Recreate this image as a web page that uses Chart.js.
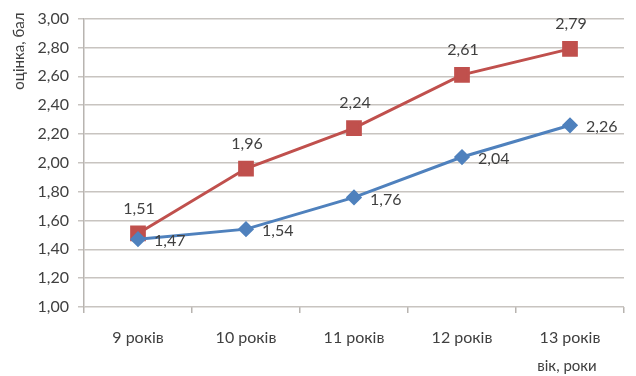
<!DOCTYPE html>
<html>
<head>
<meta charset="utf-8">
<script src="https://cdn.jsdelivr.net/npm/chart.js@4/dist/chart.umd.min.js"></script>
<style>
  html, body { margin: 0; padding: 0; background: #ffffff; }
  #wrap { width: 636px; height: 376px; }
</style>
</head>
<body>
<div id="wrap"><canvas id="chart" width="636" height="376"></canvas></div>
<script>
// Age groups and mean scores for the two series
const categories = ['9 років', '10 років', '11 років', '12 років', '13 років'];
const seriesUpper = [1.51, 1.96, 2.24, 2.61, 2.79];
const seriesLower = [1.47, 1.54, 1.76, 2.04, 2.26];
const yTicks = [1.0, 1.2, 1.4, 1.6, 1.8, 2.0, 2.2, 2.4, 2.6, 2.8, 3.0];
const yTitle = 'оцінка, бал';
const xTitle = 'вік, роки';

const FONT = 'Lato, "Open Sans", sans-serif';
const TEXT = '#404040';
const fmt = v => v.toFixed(2).replace('.', ',');

// Draws the value of every point next to its marker
const valueLabels = {
  id: 'valueLabels',
  afterDatasetsDraw(chart) {
    const ctx = chart.ctx;
    ctx.save();
    ctx.font = '16px ' + FONT;
    ctx.fillStyle = TEXT;
    ctx.textBaseline = 'middle';
    chart.data.datasets.forEach((ds, i) => {
      const meta = chart.getDatasetMeta(i);
      meta.data.forEach((pt, j) => {
        const text = fmt(ds.data[j]);
        if (ds.labelPos === 'above') {
          ctx.textAlign = 'center';
          ctx.fillText(text, pt.x + 1, pt.y - 25);
        } else {
          ctx.textAlign = 'left';
          ctx.fillText(text, pt.x + 16, pt.y + 2);
        }
      });
    });
    ctx.restore();
  }
};

// Axis titles: vertical one at the top of the value axis, horizontal one under the last category
const axisTitles = {
  id: 'axisTitles',
  afterDraw(chart) {
    const ctx = chart.ctx;
    const area = chart.chartArea;
    const xs = chart.scales.x;
    const ys = chart.scales.y;
    ctx.save();
    ctx.font = '15px ' + FONT;
    ctx.fillStyle = TEXT;
    ctx.textBaseline = 'middle';
    // value axis title, reading bottom to top, ending near the top of the plot
    ctx.save();
    ctx.translate(19, ys.getPixelForValue(ys.max) - 6);
    ctx.rotate(-Math.PI / 2);
    ctx.textAlign = 'right';
    ctx.fillText(yTitle, 0, 0);
    ctx.restore();
    // category axis title, under the last category
    ctx.textAlign = 'center';
    ctx.fillText(xTitle, xs.getPixelForValue(categories.length - 1) - 3, area.bottom + 59);
    ctx.restore();
  }
};

new Chart(document.getElementById('chart'), {
  type: 'line',
  data: {
    labels: categories,
    datasets: [
      {
        label: 'lower',
        data: seriesLower,
        borderColor: '#4F81BD',
        backgroundColor: '#4F81BD',
        borderWidth: 3,
        pointStyle: 'rectRot',
        pointRadius: 6,
        pointHoverRadius: 6,
        labelPos: 'right'
      },
      {
        label: 'upper',
        data: seriesUpper,
        borderColor: '#C0504D',
        backgroundColor: '#C0504D',
        borderWidth: 3,
        pointStyle: 'rect',
        pointRadius: 9,
        pointHoverRadius: 9,
        labelPos: 'above'
      }
    ]
  },
  options: {
    responsive: false,
    animation: false,
    layout: { padding: { left: 0, right: 1, top: 16, bottom: 0 } },
    plugins: { legend: { display: false }, tooltip: { enabled: false } },
    scales: {
      x: {
        type: 'category',
        offset: true,
        afterFit: s => { s.height = 69; s.paddingLeft = 0; s.paddingRight = 0; },
        border: { display: false },
        grid: {
          offset: true,
          drawOnChartArea: false,
          tickLength: 6,
          color: '#b8b4b0',
          lineWidth: 1.5
        },
        ticks: {
          autoSkip: false,
          maxRotation: 0,
          padding: 15,
          color: TEXT,
          font: { family: FONT, size: 16 }
        }
      },
      y: {
        min: 1,
        max: 3,
        afterBuildTicks: s => { s.ticks = yTicks.map(v => ({ value: v })); },
        afterFit: s => { s.width = 84; },
        border: { display: true, color: '#b8b4b0', width: 1.5 },
        grid: { color: '#c8c4c0', lineWidth: 1.5, tickLength: 6 },
        ticks: {
          padding: 9,
          color: TEXT,
          font: { family: FONT, size: 16 },
          callback: v => fmt(v)
        }
      }
    }
  },
  plugins: [valueLabels, axisTitles]
});
</script>
</body>
</html>
